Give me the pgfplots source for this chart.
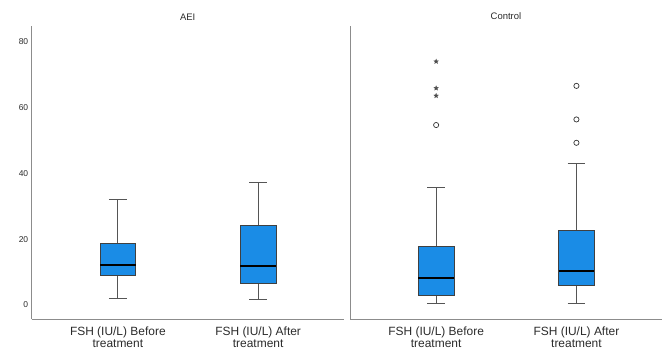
\documentclass[border=0pt]{standalone}
\usepackage{fontspec}
\setmainfont{Liberation Sans}
\usepackage{pgfplots}
\pgfplotsset{compat=1.18}
\usepgfplotslibrary{statistics}
\definecolor{boxblue}{HTML}{1A8CE6}
\definecolor{axgray}{HTML}{8C8C8C}
\definecolor{txt}{HTML}{2B2B2B}
\definecolor{whisk}{HTML}{555555}
\pgfdeclareplotmark{fstar}{%
  \pgfpathmoveto{\pgfpointpolar{90}{\pgfplotmarksize}}%
  \pgfpathlineto{\pgfpointpolar{126}{0.42\pgfplotmarksize}}%
  \pgfpathlineto{\pgfpointpolar{162}{\pgfplotmarksize}}%
  \pgfpathlineto{\pgfpointpolar{198}{0.42\pgfplotmarksize}}%
  \pgfpathlineto{\pgfpointpolar{234}{\pgfplotmarksize}}%
  \pgfpathlineto{\pgfpointpolar{270}{0.42\pgfplotmarksize}}%
  \pgfpathlineto{\pgfpointpolar{306}{\pgfplotmarksize}}%
  \pgfpathlineto{\pgfpointpolar{342}{0.42\pgfplotmarksize}}%
  \pgfpathlineto{\pgfpointpolar{18}{\pgfplotmarksize}}%
  \pgfpathlineto{\pgfpointpolar{54}{0.42\pgfplotmarksize}}%
  \pgfpathclose
  \pgfusepathqfillstroke
}
\pgfplotsset{
 panel/.style={
  scale only axis, width=312bp, height=293bp,
  xmin=0.386, xmax=2.61, ymin=-4.25, ymax=84.8,
  axis x line*=bottom, axis y line*=left,
  axis line style={draw=axgray, line width=0.8bp, -},
  major tick length=0pt,
  xtick={1,2},
  xticklabels={{FSH (IU/L) Before\\treatment},{FSH (IU/L) After\\treatment}},
  xticklabel style={align=center, font=\fontsize{12}{12}\selectfont, text=txt, yshift=-4.5bp},
  ytick={0,20,40,60,80},
  yticklabel style={font=\fontsize{8.5}{10}\selectfont, text=txt},
  /pgf/number format/assume math mode=true,
  title style={font=\fontsize{9.5}{11}\selectfont, text=txt, yshift=-3.5bp},
  boxplot/draw direction=y,
  boxplot/box extend=0.254,
  boxplot/whisker extend=0.127,
  clip=false,
 },
 bx/.style={solid, draw=whisk, line width=0.9bp, mark=none,
   boxplot/every box/.style={fill=boxblue, draw=black!75, line width=0.8bp},
   boxplot/every whisker/.style={draw=whisk, line width=0.9bp},
   boxplot/every median/.style={draw=black, line width=1.6bp}},
 circ/.style={only marks, mark=o, mark size=2.6bp, mark options={draw=black!80, line width=0.7bp}},
 stars/.style={only marks, mark=fstar, mark size=2.4bp, mark options={draw=black!70, fill=black!70, line width=0.3bp}},
}
\begin{document}
\begin{tikzpicture}
\path[use as bounding box] (0,0) rectangle (665bp,349bp);
\begin{axis}[panel, at={(31.7bp,30bp)}, anchor=south west, title={AEI}]
\addplot[bx, boxplot prepared={draw position=1, lower whisker=2.0, lower quartile=9.1, median=12.1, upper quartile=18.8, upper whisker=32.1}] coordinates {};
\addplot[bx, boxplot prepared={draw position=2, lower whisker=1.7, lower quartile=6.7, median=11.9, upper quartile=24.2, upper whisker=37.4}] coordinates {};
\end{axis}
\begin{axis}[panel, at={(350bp,30bp)}, anchor=south west, title={Control}, yticklabels={}]
\addplot[bx, boxplot prepared={draw position=1, lower whisker=0.4, lower quartile=3.0, median=8.2, upper quartile=17.7, upper whisker=35.8}] coordinates {};
\addplot[bx, boxplot prepared={draw position=2, lower whisker=0.4, lower quartile=5.9, median=10.3, upper quartile=22.8, upper whisker=43.1}] coordinates {};
\addplot[circ] coordinates {(1,54.7) (2,49.3) (2,56.4) (2,66.6)};
\addplot[stars] coordinates {(1,63.6) (1,65.9) (1,74.0)};
\end{axis}
\end{tikzpicture}
\end{document}
